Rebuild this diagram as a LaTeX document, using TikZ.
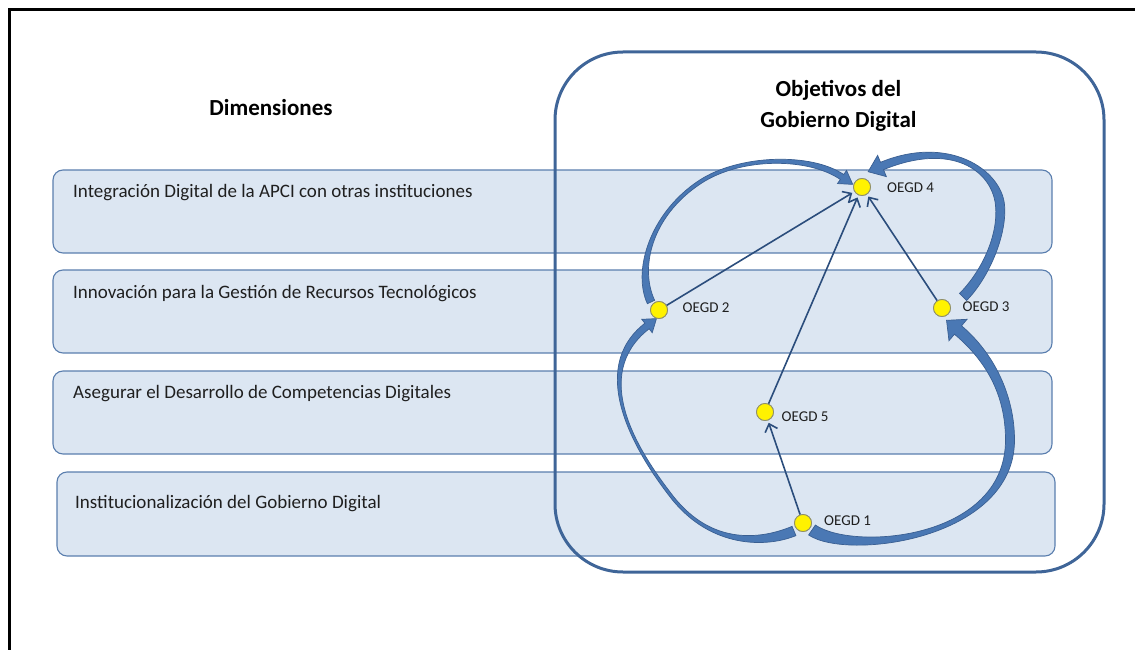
\documentclass[tikz,border=0pt]{standalone}
\usepackage{fontspec}
\setmainfont{Carlito}
\usetikzlibrary{calc,arrows.meta}
\definecolor{rowfill}{HTML}{DCE6F2}
\definecolor{rowline}{HTML}{5A7EAE}
\definecolor{bigline}{HTML}{3F6598}
\definecolor{arrfill}{HTML}{4A78B4}
\definecolor{arrline}{HTML}{3A5F92}
\definecolor{thinarr}{HTML}{2B4D7C}
\definecolor{nodeline}{HTML}{8E8E6E}
\definecolor{txt}{HTML}{1F1F1F}
% tapered curved arrow through coordinates #10..#16
\newcommand\tarrow[6]{%
\fill[curvefill] ($(#10)!#2!90:(#11)$) .. controls ($(#11)!#2!-90:(#10)$) and ($(#12)!#3!90:(#13)$) .. ($(#13)!#3!-90:(#12)$)
 .. controls ($(#14)!#3!-90:(#13)$) and ($(#15)!#4!90:(#16)$) .. ($(#16)!#4!-90:(#15)$)
 -- ($(#16)!#5!-90:(#15)$) -- ($(#16)!-#6!(#15)$) -- ($(#16)!#5!90:(#15)$)
 -- ($(#16)!#4!90:(#15)$) .. controls ($(#15)!#4!-90:(#16)$) and ($(#14)!#3!90:(#13)$) .. ($(#13)!#3!90:(#12)$)
 .. controls ($(#12)!#3!-90:(#13)$) and ($(#11)!#2!90:(#10)$) .. ($(#10)!#2!-90:(#11)$) -- cycle;}
\begin{document}
\begin{tikzpicture}[x=1pt,y=-1pt,
  rowbox/.style={draw=rowline, line width=1.1pt, fill=rowfill, rounded corners=10pt, inner sep=0pt},
  rowtext/.style={anchor=base west, inner sep=0pt, text=txt, font=\fontsize{19}{23}\selectfont},
  titletext/.style={anchor=base, inner sep=0pt, text=black, font=\fontsize{23}{28}\selectfont\bfseries},
  bigbox/.style={draw=bigline, line width=3pt, rounded corners=68pt, inner sep=0pt},
  goal/.style={circle, draw=nodeline, line width=0.8pt, fill=yellow, minimum size=17pt, inner sep=0pt},
  goallabel/.style={anchor=west, inner sep=0pt, text=txt, font=\fontsize{15}{18}\selectfont},
  thinarrow/.style={draw=thinarr, line width=1.6pt, -{Straight Barb[length=7pt,width=13pt]}, shorten >=2.5pt},
  curvefill/.style={fill=arrfill, draw=arrline, line width=0.7pt}]
\useasboundingbox (0,0) rectangle (1135,650);
% outer frame
\draw[line width=3.8pt, line cap=butt] (9.5,650) -- (9.5,9.5) -- (1135,9.5);
% dimension rows
\node[rowbox, minimum width=999pt, minimum height=83pt] (r1) at (552.5,211.5) {};
\node[rowbox, minimum width=999pt, minimum height=83pt] (r2) at (552.5,311.5) {};
\node[rowbox, minimum width=999pt, minimum height=83pt] (r3) at (552.5,412.5) {};
\node[rowbox, minimum width=998pt, minimum height=84pt] (r4) at (556,514) {};
\node[rowtext] (t1) at (73,197) {Integración Digital de la APCI con otras instituciones};
\node[rowtext] (t2) at (73,298) {Innovación para la Gestión de Recursos Tecnológicos};
\node[rowtext] (t3) at (73,398) {Asegurar el Desarrollo de Competencias Digitales};
\node[rowtext] (t4) at (75,508) {Institucionalización del Gobierno Digital};
\node[titletext] (dim) at (271,116) {Dimensiones};
% objectives box
\node[bigbox, minimum width=549pt, minimum height=520pt] (big) at (829.5,312) {};
\node[titletext] (obj1) at (838.5,97) {Objetivos del};
\node[titletext] (obj2) at (838.5,128) {Gobierno Digital};
% goal nodes
\node[goal] (o4) at (862,187) {};
\node[goal] (o2) at (659,310) {};
\node[goal] (o3) at (942,308) {};
\node[goal] (o5) at (765,412) {};
\node[goal] (o1) at (803,523) {};
% thick curved arrows
\coordinate (a0) at ($(o2)+(-8,-8)$);
\coordinate (a1) at (636,270); \coordinate (a2) at (650,215); \coordinate (a3) at (700,182);
\coordinate (a4) at (740,155.6); \coordinate (a5) at (810,155); \coordinate (a6) at ($(o4)+(-20,-10)$);
\coordinate (b0) at ($(o3)+(21,-11)$);
\coordinate (b1) at (985,275); \coordinate (b2) at (1003,235); \coordinate (b3) at (1000,205);
\coordinate (b4) at (996.5,170); \coordinate (b5) at (950,138); \coordinate (b6) at ($(o4)+(20,-21)$);
\coordinate (c0) at ($(o1)+(-9,8)$);
\coordinate (c1) at (765,543); \coordinate (c2) at (712,548); \coordinate (c3) at (672,497);
\coordinate (c4) at (636,451); \coordinate (c5) at (588,372); \coordinate (c6) at ($(o2)+(-12,16)$);
\coordinate (d0) at ($(o1)+(9,7)$);
\coordinate (d1) at (850,556); \coordinate (d2) at (1010,540); \coordinate (d3) at (1010,440);
\coordinate (d4) at (1010,395); \coordinate (d5) at (990,357); \coordinate (d6) at ($(o3)+(16,22)$);
\tarrow{a}{4pt}{1.8pt}{3pt}{8pt}{13pt}
\tarrow{b}{5pt}{4.5pt}{4pt}{11.5pt}{15pt}
\tarrow{c}{5pt}{1.5pt}{3.5pt}{8.5pt}{12pt}
\tarrow{d}{6pt}{4.5pt}{5.5pt}{14pt}{15pt}
% thin arrows
\draw[thinarrow] (o2) -- (o4);
\draw[thinarrow] (o5) -- (o4);
\draw[thinarrow] (o3) -- (o4);
\draw[thinarrow] (o1) -- (o5);
% redraw nodes on top
\node[goal] at (o4) {};
\node[goal] at (o2) {};
\node[goal] at (o3) {};
\node[goal] at (o5) {};
\node[goal] at (o1) {};
% labels
\node[goallabel] (l4) at (887,188) {OEGD 4};
\node[goallabel] (l2) at (682.5,308) {OEGD 2};
\node[goallabel] (l3) at (962.5,307) {OEGD 3};
\node[goallabel] (l5) at (781.5,417) {OEGD 5};
\node[goallabel] (l1) at (824,521) {OEGD 1};
\end{tikzpicture}
\end{document}
